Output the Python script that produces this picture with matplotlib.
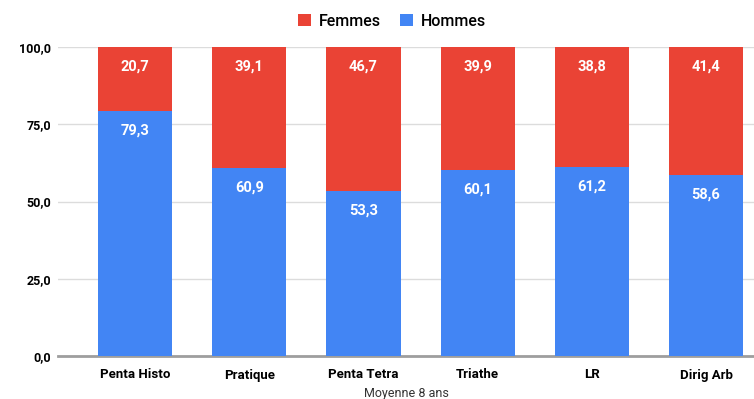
import matplotlib.pyplot as plt
import numpy as np

categories = ["Penta Histo", "Pratique", "Penta Tetra", "Triathe", "LR", "Dirig Arb"]
hommes = [79.3, 60.9, 53.3, 60.1, 61.2, 58.6]
femmes = [20.7, 39.1, 46.7, 39.9, 38.8, 41.4]
yticks = [0, 25, 50, 75, 100]

RED = "#EA4335"
BLUE = "#4285F4"

plt.rcParams['font.family'] = ['Roboto', 'DejaVu Sans']

fig = plt.figure(figsize=(7.54, 3.99), dpi=100)
ax = fig.add_axes([58 / 754, 43 / 399, 1 - 58 / 754, 309 / 399])

x = np.arange(len(categories))
w = 0.65
b1 = ax.bar(x, hommes, w, color=BLUE, label="Hommes", zorder=3)
b2 = ax.bar(x, femmes, w, bottom=hommes, color=RED, label="Femmes", zorder=3)

# value labels just inside the top of each segment
for bars, vals, base in [(b1, hommes, [0] * len(hommes)), (b2, femmes, hommes)]:
    for rect, v, b in zip(bars, vals, base):
        ax.annotate(f"{v:.1f}".replace(".", ","), (rect.get_x() + rect.get_width() / 2, b + v),
                    xytext=(0, -9), textcoords="offset points", ha="center", va="top",
                    color="white", fontsize=10.5, fontweight="bold", zorder=4)

ax.set_xlim(-0.675, 5.42)
ax.set_ylim(0, 100)
ax.set_yticks(yticks)
ax.set_yticklabels([f"{t:.1f}".replace(".", ",") for t in yticks], fontsize=9, fontweight="bold")
ax.set_xticks(x)
ax.set_xticklabels(categories, fontsize=9.5, fontweight="bold")
ax.tick_params(axis="x", length=0, pad=9)
ax.tick_params(axis="y", length=0, pad=5)

ax.grid(axis="y", color="#dcdcdc", linewidth=1, zorder=0)
for s in ["top", "right", "left"]:
    ax.spines[s].set_visible(False)
ax.spines["bottom"].set_color("#9e9e9e")
ax.spines["bottom"].set_linewidth(2)
ax.spines["bottom"].set_zorder(2)

ax.set_xlabel("Moyenne 8 ans", fontsize=9, color="#333333", labelpad=4)

handles = [b2, b1]
fig.legend(handles, ["Femmes", "Hommes"], loc="center", bbox_to_anchor=(392 / 754, 1 - 21 / 399),
           ncol=2, frameon=False, handlelength=0.8, handleheight=0.8,
           handletextpad=0.5, columnspacing=1.2, prop={"weight": "medium", "size": 11.5})

fig.savefig("out.png", dpi=100)
